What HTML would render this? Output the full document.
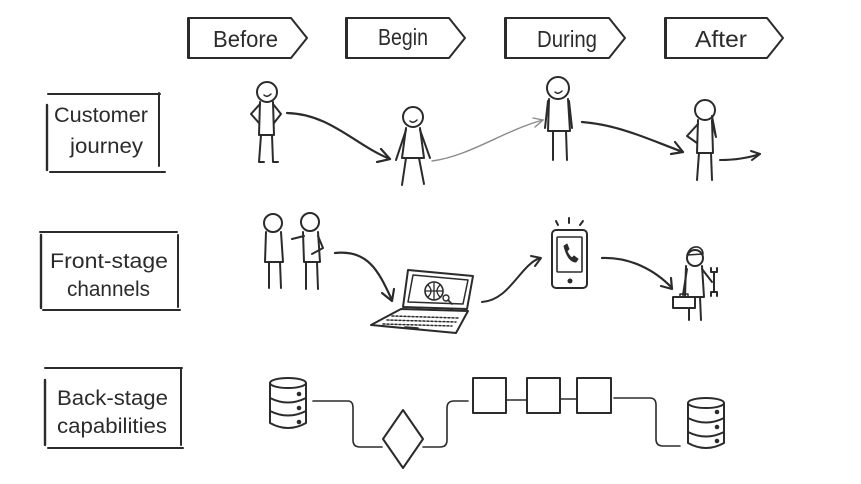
<!DOCTYPE html>
<html><head><meta charset="utf-8"><style>
html,body{margin:0;padding:0;background:#fff;}
svg{display:block;}
text{font-family:"Liberation Sans","DejaVu Sans",sans-serif;fill:#2b2b2b;}
</style></head><body>
<svg width="861" height="484" viewBox="0 0 861 484" xmlns="http://www.w3.org/2000/svg">
<g fill="none" stroke="#2b2b2b" stroke-width="2" stroke-linecap="round" stroke-linejoin="round">
<!-- header chevrons -->
<path d="M188,18 L291,18 L307,38 L291,58 L188,58 Z"/>
<path d="M189,19 L189,57"/>
<path d="M346,18 L449,18 L465,38 L449,58 L346,58 Z"/>
<path d="M347,19 L347,57"/>
<path d="M505,18 L609,18 L625,38 L609,58 L505,58 Z"/>
<path d="M506,19 L506,57"/>
<path d="M665,18 L767,18 L783,38 L767,58 L665,58 Z"/>
<path d="M666,19 L666,57"/>

<!-- left label boxes -->
<path d="M48,94 L160,94"/>
<path d="M47,105 L47,170" stroke-width="2.4"/>
<path d="M159,93 L159,166"/>
<path d="M50,172 L165,172"/>

<path d="M40,232 L177,232"/>
<path d="M41,235 L41,308" stroke-width="2.4"/>
<path d="M178,235 L178,307"/>
<path d="M43,310 L180,310"/>

<path d="M45,368 L182,368"/>
<path d="M45,380 L45,445" stroke-width="2.4"/>
<path d="M181,369 L181,445"/>
<path d="M48,448 L183,448"/>

<!-- Row 1 figures -->
<circle cx="267" cy="92" r="10"/>
<path d="M264,95 q3,3 7,-1" stroke-width="1.5"/>
<path d="M260,102 L259,135 M273,102 L274,135 M259,135 L274,135"/>
<path d="M260,104 L251,114 L259,123 M273,104 L281,114 L274,123"/>
<path d="M261,135 L259,162 L264,162 M272,135 L273,162 L278,162"/>

<circle cx="413" cy="117" r="10"/>
<path d="M410,121 q3,3 7,-1" stroke-width="1.5"/>
<path d="M406,128 L402,158 M420,128 L424,158 M403,158 L423,158"/>
<path d="M406,130 L396,160 M420,130 L430,158"/>
<path d="M406,158 L402,185 M419,158 L424,184"/>

<circle cx="558" cy="88" r="11"/>
<path d="M555,92 q3,3 7,-1" stroke-width="1.5"/>
<path d="M549,99 L548,131 M568,99 L570,131 M548,131 L570,131"/>
<path d="M548,101 L545,128 M569,101 L572,128"/>
<path d="M553,131 L553,160 M566,131 L567,160"/>

<circle cx="705" cy="110" r="10"/>
<path d="M698,120 L697,153 M712,120 L713,153 M697,153 L713,153"/>
<path d="M698,124 L687,136 L697,143"/>
<path d="M712,122 L716,137 L712,116"/>
<path d="M699,153 L697,180 M711,153 L712,180"/>

<!-- Row 1 arrows -->
<path d="M287,113 C330,114 355,145 390,159" stroke-width="2.2"/>
<path d="M377,162 L390,159 L381,149" stroke-width="2.2"/>
<path d="M582,122 C620,125 650,140 683,152" stroke-width="2.2"/>
<path d="M671,154 L683,152 L675,142" stroke-width="2.2"/>
<path d="M720,160 C735,160 748,158 760,154"/>
<path d="M751,151 L760,154 L752,160"/>
</g>
<g fill="none" stroke="#8a8a8a" stroke-width="1.4" stroke-linecap="round">
<path d="M432,161 C470,156 505,130 543,120"/>
<path d="M533,118 L543,120 L535,127"/>
</g>

<g fill="none" stroke="#2b2b2b" stroke-width="2" stroke-linecap="round" stroke-linejoin="round">
<!-- Row 2 figures -->
<circle cx="273" cy="223" r="9"/>
<path d="M266,232 L265,262 M281,232 L283,262 M265,262 L283,262"/>
<path d="M269,262 L269,288 M280,262 L281,288"/>
<circle cx="310" cy="222" r="9"/>
<path d="M303,232 L304,262 M318,232 L320,262 M304,262 L320,262"/>
<path d="M304,236 L292,239 M318,236 L323,248 L312,254"/>
<path d="M306,262 L306,289 M317,262 L318,289"/>

<!-- laptop -->
<path d="M408,270 L473,276 L467,309 L403,307 Z"/>
<path d="M413,275 L468,280 L463,304 L408,302 Z" stroke-width="1.5"/>
<path d="M401,309 L468,311 L456,333 L371,325 Z"/>
<path d="M392,316 L458,318 M387,320 L456,322 M383,324 L452,326" stroke-width="1.5" stroke-dasharray="2 2"/>
<path d="M405,327 L418,328" stroke-width="1.5"/>
<circle cx="434" cy="291" r="9" stroke-width="1.6"/>
<path d="M425,291 L443,291 M434,282 L434,300 M428,285 q6,6 0,12 M440,285 q-6,6 0,12" stroke-width="1.3"/>
<circle cx="446" cy="298" r="3" stroke-width="1.4"/>
<path d="M448,300 L452,304" stroke-width="1.6"/>

<!-- phone -->
<rect x="552" y="230" width="35" height="58" rx="4"/>
<rect x="557" y="237" width="25" height="35" rx="1" stroke-width="1.6"/>
<circle cx="570" cy="281" r="1.5" fill="#2b2b2b"/>
<path d="M556,221 L558,225 M569,218 L569,223 M583,221 L580,225"/>
<path d="M564,246 L567,244 L569,249 L567,251 Q569,256 572,258 L574,256 L578,259 L576,262 Q568,262 564,246 Z" fill="#2b2b2b" stroke-width="1"/>

<!-- worker -->
<circle cx="695" cy="258" r="8"/>
<path d="M687,255 Q690,246 698,247 Q703,249 703,254 L687,255" stroke-width="1.6"/>
<path d="M686,266 L685,297 M702,266 L704,297 M685,297 L704,297"/>
<path d="M687,269 L683,295 M702,269 L712,282"/>
<rect x="673" y="297" width="22" height="11"/>
<path d="M680,297 L680,294 L688,294 L688,297" stroke-width="1.5"/>
<path d="M714,272 L714,292 M711,268 L711,272 L717,272 L717,268 M711,296 L711,292 L717,292 L717,296"/>
<path d="M689,308 L689,320 M700,297 L701,320"/>

<!-- Row 2 arrows -->
<path d="M335,253 C370,249 380,275 392,300" stroke-width="2.2"/>
<path d="M382,293 L392,301 L394,289" stroke-width="2.2"/>
<path d="M482,302 C510,300 520,265 540,258" stroke-width="2"/>
<path d="M531,256 L541,258 L535,266" stroke-width="2"/>
<path d="M602,258 C630,257 655,270 672,288" stroke-width="2.2"/>
<path d="M661,286 L672,289 L671,278" stroke-width="2.2"/>

<!-- Row 3 -->
<ellipse cx="288" cy="383" rx="18" ry="5"/>
<path d="M270,383 L270,423 Q288,433 306,423 L306,383"/>
<path d="M270,398 Q288,407 306,398 M270,411 Q288,420 306,411"/>
<circle cx="299" cy="394" r="1.3" fill="#2b2b2b"/>
<circle cx="299" cy="408" r="1.3" fill="#2b2b2b"/>
<circle cx="299" cy="422" r="1.3" fill="#2b2b2b"/>

<path d="M313,401 L348,401 Q353,401 353,408 L353,440 Q353,447 360,447 L382,447" stroke-width="1.6"/>
<path d="M403,410 L423,439 L403,468 L383,439 Z"/>
<path d="M423,447 L440,447 Q447,447 447,440 L447,408 Q447,401 454,401 L468,401" stroke-width="1.6"/>

<rect x="473" y="378" width="33" height="35"/>
<rect x="527" y="378" width="33" height="35"/>
<rect x="577" y="378" width="34" height="35"/>
<path d="M506,400 L527,400 M560,399 L577,399" stroke-width="1.6"/>
<path d="M614,398 L650,398 Q656,398 656,405 L656,439 Q656,446 663,446 L680,446" stroke-width="1.6"/>

<ellipse cx="706" cy="403" rx="18" ry="5"/>
<path d="M688,403 L688,443 Q706,453 724,443 L724,403"/>
<path d="M688,418 Q706,427 724,418 M688,432 Q706,441 724,432"/>
<circle cx="717" cy="412" r="1.3" fill="#2b2b2b"/>
<circle cx="717" cy="427" r="1.3" fill="#2b2b2b"/>
<circle cx="717" cy="441" r="1.3" fill="#2b2b2b"/>
</g>

<!-- text -->
<g font-size="23">
<text x="213" y="47" textLength="65" lengthAdjust="spacingAndGlyphs">Before</text>
<text x="378" y="45" textLength="50" lengthAdjust="spacingAndGlyphs">Begin</text>
<text x="537" y="47" textLength="60" lengthAdjust="spacingAndGlyphs">During</text>
<text x="695" y="47" textLength="52" lengthAdjust="spacingAndGlyphs">After</text>
</g>
<g font-size="21">
<text x="54" y="122" textLength="94" lengthAdjust="spacingAndGlyphs">Customer</text>
<text x="70" y="153" textLength="73" lengthAdjust="spacingAndGlyphs">journey</text>
<text x="50" y="268" textLength="118" lengthAdjust="spacingAndGlyphs">Front-stage</text>
<text x="67" y="296" textLength="83" lengthAdjust="spacingAndGlyphs">channels</text>
<text x="57" y="405" textLength="111" lengthAdjust="spacingAndGlyphs">Back-stage</text>
<text x="57" y="433" textLength="110" lengthAdjust="spacingAndGlyphs">capabilities</text>
</g>
</svg>
</body></html>
